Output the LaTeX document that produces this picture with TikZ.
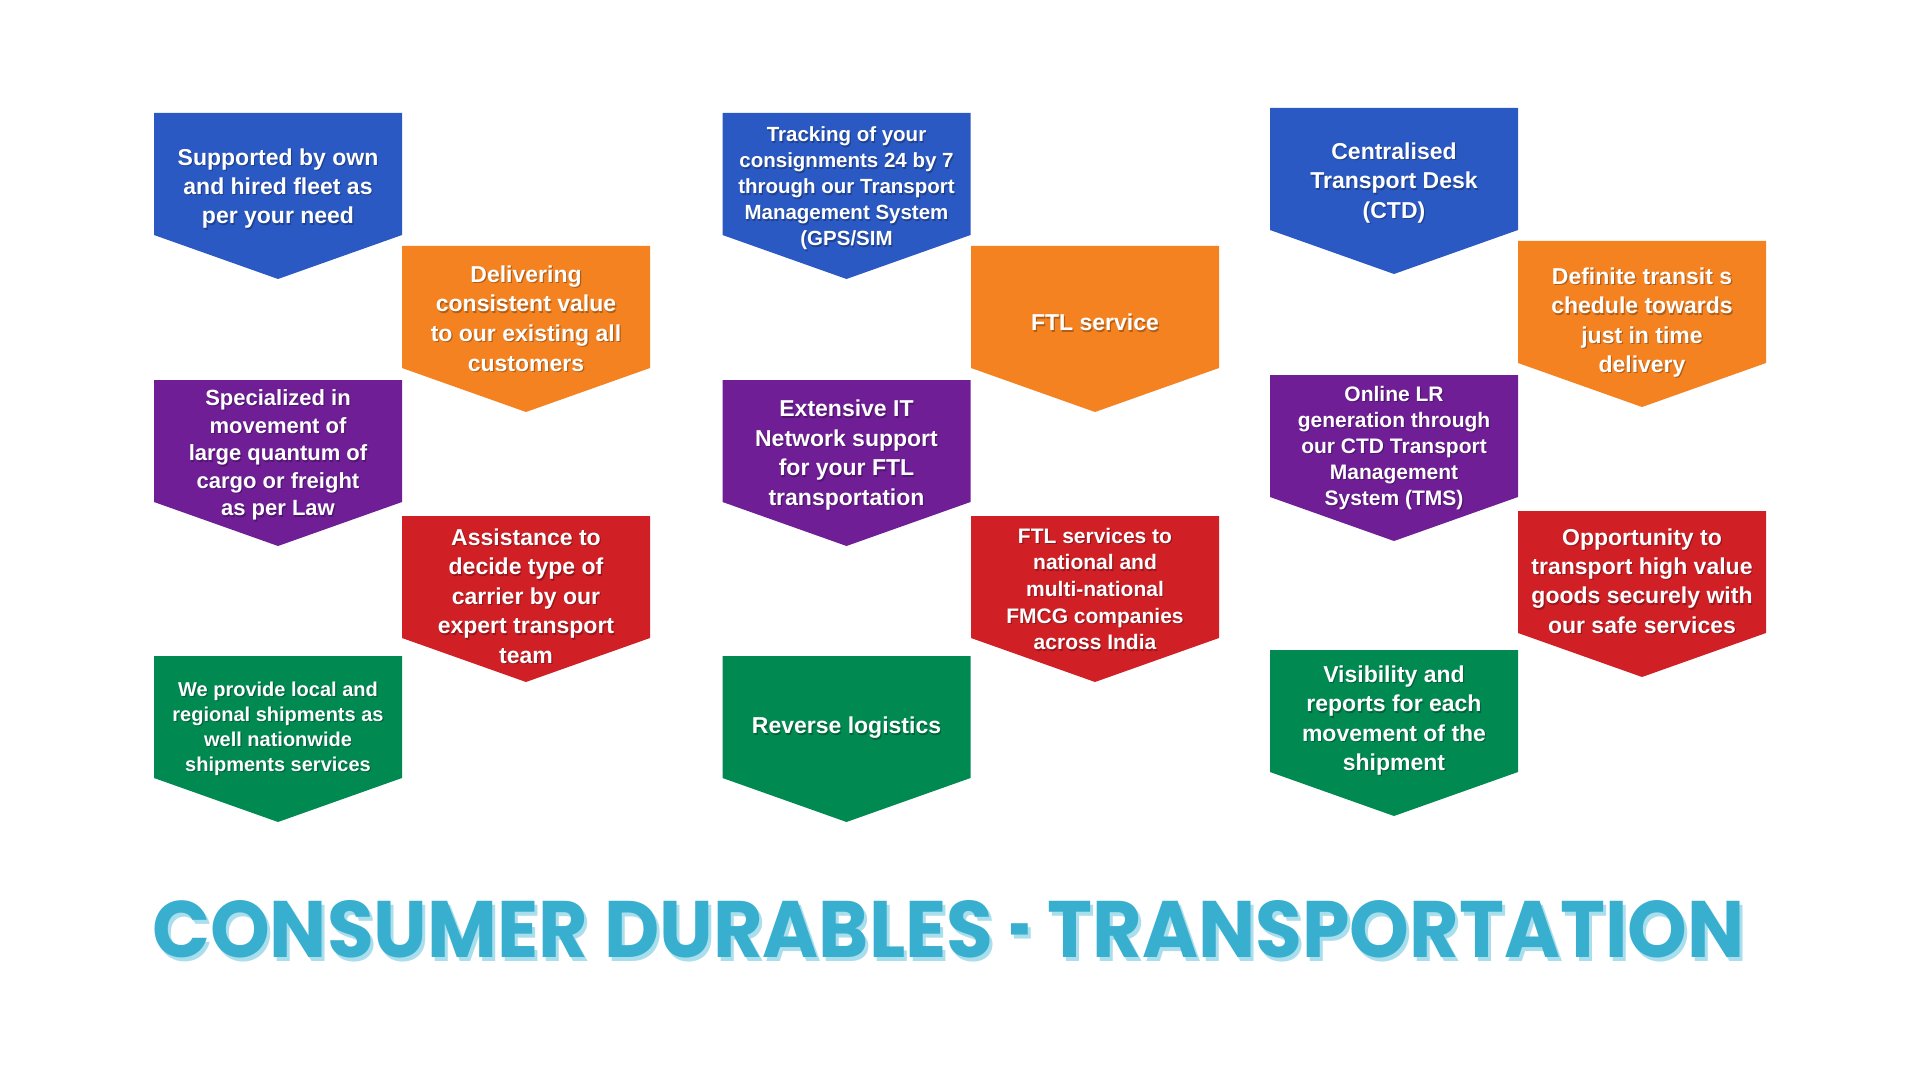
\documentclass[tikz,border=0pt]{standalone}
\usepackage{fontspec}
\setmainfont{Liberation Sans}
\newfontfamily\titlefont{Poppins}
\usepackage{graphicx}
\definecolor{cblue}{HTML}{2B59C3}
\definecolor{corange}{HTML}{F58220}
\definecolor{cpurple}{HTML}{6F1E96}
\definecolor{cred}{HTML}{D11F26}
\definecolor{cgreen}{HTML}{008A51}
\definecolor{ctitle}{HTML}{39AFCF}
\definecolor{ctshadow}{HTML}{A9DEEC}
\tikzset{
  txt/.style={align=center,text=white,inner sep=0pt},
  txtshadow/.style={align=center,text=black,opacity=0.28,inner sep=0pt},
}
\newcommand\titletext{\resizebox{1592pt}{57pt}{\titlefont\bfseries CONSUMER DURABLES \scalebox{0.5}[1]{-} TRANSPORTATION}}
% #1 name, #2 left x, #3 top y, #4 colour, #5 text centre y, #6 font size, #7 baselineskip, #8 text
\newcommand\arrbox[8]{%
  \fill[#4] (#2,#3) -- ++(248,0) -- ++(0,122) -- ++(-124,44) -- ++(-124,-44) -- cycle;
  \node[txtshadow,font=\fontsize{#6}{#7}\selectfont\bfseries] at ({#2+125.2},{#5+4.4}) {#8};
  \node[txt,font=\fontsize{#6}{#7}\selectfont\bfseries] (#1) at ({#2+124},{#5+3}) {#8};
}
\begin{document}
\begin{tikzpicture}[x=1pt,y=-1pt]
\useasboundingbox[fill=white] (0,0) rectangle (1920,1078);
% column 1
\arrbox{b1}{154}{113}{cblue}{185.5}{23}{29.2}{Supported by own\\and hired fleet as\\per your need}
\arrbox{o1}{402}{246}{corange}{315.5}{23}{29.6}{Delivering\\consistent value\\to our existing all\\customers}
\arrbox{p1}{154}{380}{cpurple}{452}{22}{27.6}{Specialized in\\movement of\\large quantum of\\cargo or freight\\as per Law}
\arrbox{r1}{402}{516}{cred}{593}{23}{29.4}{Assistance to\\decide type of\\carrier by our\\expert transport\\team}
\arrbox{g1}{154}{656}{cgreen}{725.5}{20}{25}{We provide local and\\regional shipments as\\well nationwide\\shipments services}
% column 2
\arrbox{b2}{722.5}{113}{cblue}{185.5}{20.5}{26}{Tracking of your\\consignments 24 by 7\\through our Transport\\Management System\\(GPS/SIM}
\arrbox{o2}{971}{246}{corange}{319.5}{23}{29.4}{FTL service}
\arrbox{p2}{722.5}{380}{cpurple}{452}{23}{29.4}{Extensive IT\\Network support\\for your FTL\\transportation}
\arrbox{r2}{971}{516}{cred}{586}{21}{26.6}{FTL services to\\national and\\multi-national\\FMCG companies\\across India}
\arrbox{g2}{722.5}{656}{cgreen}{725}{23}{29.4}{Reverse logistics}
% column 3
\arrbox{b3}{1270}{108}{cblue}{180}{23}{29.4}{Centralised\\Transport Desk\\(CTD)}
\arrbox{o3}{1518}{241}{corange}{319.5}{23}{29.4}{Definite transit s\\chedule towards\\just in time\\delivery}
\arrbox{p3}{1270}{375}{cpurple}{445}{21}{26}{Online LR\\generation through\\our CTD Transport\\Management\\System (TMS)}
\arrbox{r3}{1518}{511}{cred}{578}{23}{29.4}{Opportunity to\\transport high value\\goods securely with\\our safe services}
\arrbox{g3}{1270}{650}{cgreen}{717.5}{23}{29.4}{Visibility and\\reports for each\\movement of the\\shipment}
% title with offset light shadow, in one node
\node[anchor=north west,inner sep=0pt,text=ctitle] (title) at (152,900)
  {\makebox[0pt][l]{\hspace*{3pt}\raisebox{-4pt}{\textcolor{ctshadow}{\titletext}}}\titletext};
\end{tikzpicture}
\end{document}
